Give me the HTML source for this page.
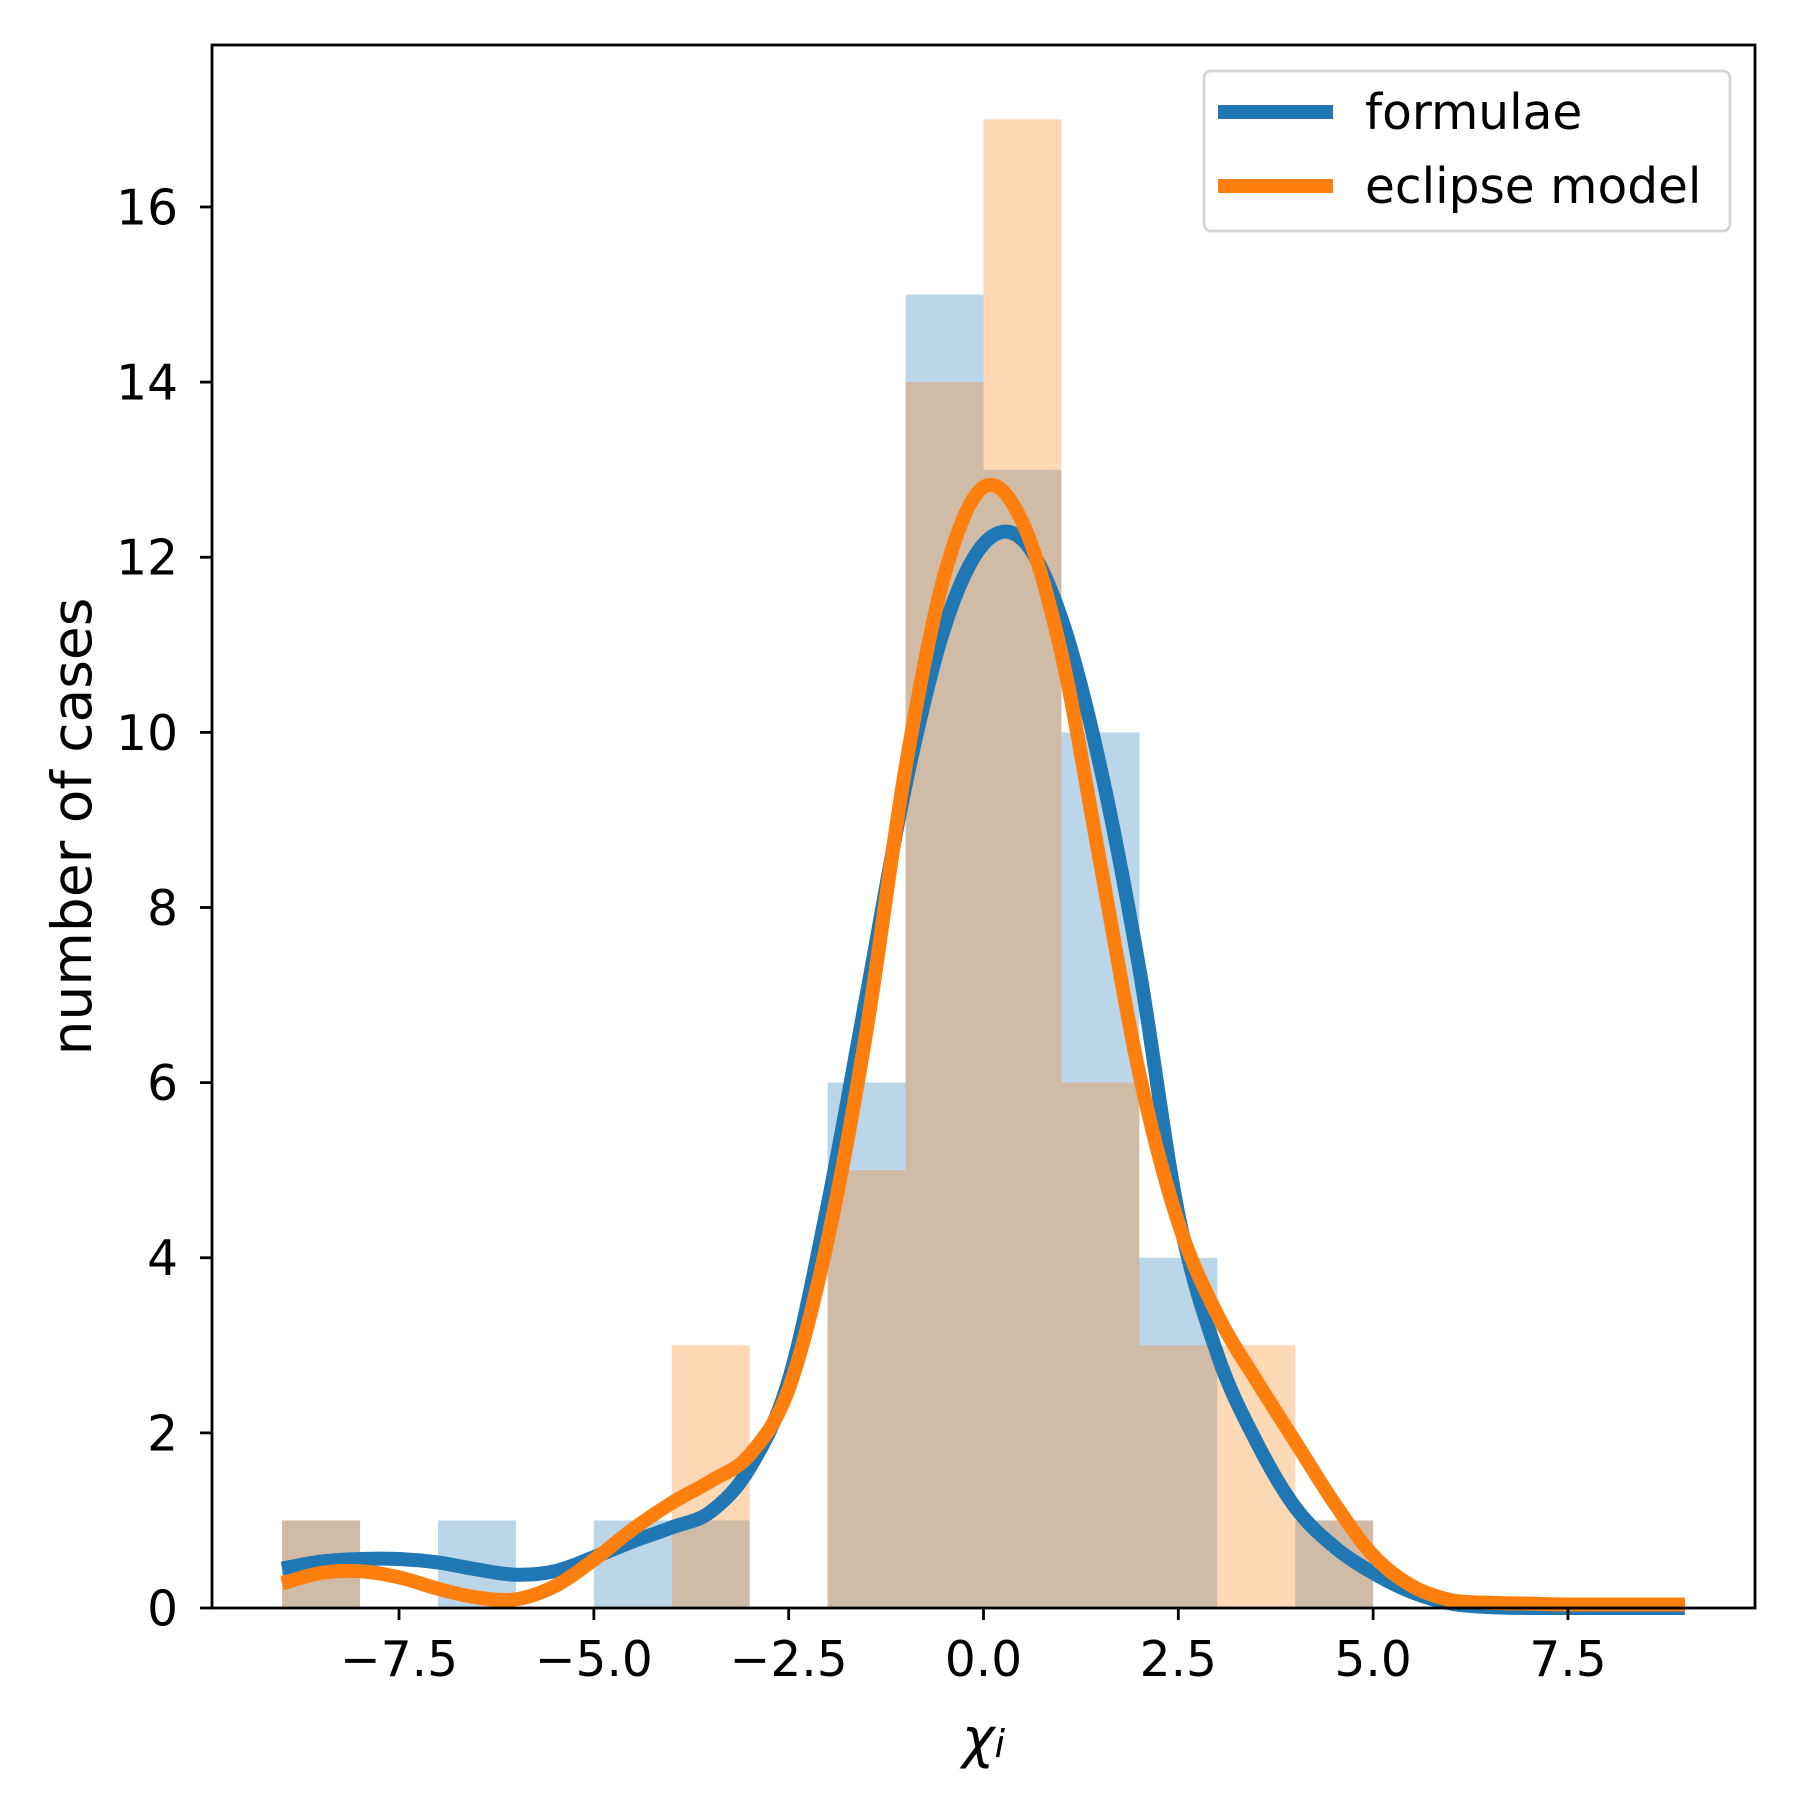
<!DOCTYPE html>
<html><head><meta charset="utf-8"><style>
html,body{margin:0;padding:0;background:#fff;}
svg{display:block;font-family:"DejaVu Sans","Liberation Sans",sans-serif;}
</style></head><body>
<svg id="chart" width="1800" height="1800" viewBox="0 0 1800 1800">
<rect width="1800" height="1800" fill="#fff"/>
<g id="bars"></g>
<g id="lines"></g>
<g id="axes"></g>
<g id="legend">
  <rect x="1204" y="71" width="526" height="160" rx="7" fill="#fff" fill-opacity="0.8" stroke="#d5d5d5" stroke-width="2.8"/>
  <line x1="1218" y1="112" x2="1333" y2="112" stroke="#1f77b4" stroke-width="14"/>
  <text x="1365" y="129" font-size="48.6" fill="#000">formulae</text>
  <line x1="1218" y1="186" x2="1333" y2="186" stroke="#ff7f0e" stroke-width="14"/>
  <text x="1365" y="203" font-size="48.6" fill="#000">eclipse model</text>
</g>
</svg>
<script>
const binEdges = [-9,-8,-7,-6,-5,-4,-3,-2,-1,0,1,2,3,4];
const countsFormulae = [1,0,1,0,1,1,0,6,15,13,10,4,0,1];
const countsEclipse  = [1,0,0,0,0,3,0,5,14,17,6,3,3,1];
const kdeX = [-9,-8.5,-8,-7.5,-7,-6.5,-6,-5.5,-5,-4.5,-4,-3.5,-3,-2.5,-2,-1.5,-1,-0.5,0,0.5,1,1.5,2,2.5,3,3.5,4,4.5,5,5.5,6,6.5,7,7.5,8,8.5,9];
const kdeFormulae = [0.45,0.53,0.56,0.56,0.52,0.44,0.38,0.42,0.58,0.76,0.92,1.1,1.6,2.6,4.6,7.0,9.4,11.2,12.15,12.2,11.3,9.6,7.3,4.5,2.9,1.9,1.15,0.7,0.4,0.18,0.05,0.01,0,0,0,0,0];
const kdeEclipse = [0.28,0.4,0.42,0.35,0.22,0.12,0.1,0.25,0.55,0.9,1.2,1.45,1.75,2.5,4.2,6.6,9.6,11.8,12.8,12.4,10.9,8.5,6.1,4.4,3.35,2.6,1.9,1.2,0.6,0.25,0.09,0.06,0.05,0.04,0.04,0.04,0.04];
const xTicks = [-7.5,-5,-2.5,0,2.5,5,7.5];
const xTickLabels = ["\u22127.5","\u22125.0","\u22122.5","0.0","2.5","5.0","7.5"];
const yTicks = [0,2,4,6,8,10,12,14,16];
const yTickLabels = ["0","2","4","6","8","10","12","14","16"];

const L=212,R=1755,T=45,B=1608;
const xMin=-9.9,xMax=9.9,yMin=0,yMax=17.85;
const sx=v=>L+(v-xMin)/(xMax-xMin)*(R-L);
const sy=v=>B-(v-yMin)/(yMax-yMin)*(B-T);
const NS="http://www.w3.org/2000/svg";
function mk(tag,attrs,parent){const e=document.createElementNS(NS,tag);for(const k in attrs)e.setAttribute(k,attrs[k]);parent.appendChild(e);return e;}

const bars=document.getElementById('bars');
function drawBars(counts,color,name){
  counts.forEach((c,i)=>{
    if(c<=0)return;
    const x0=sx(binEdges[i]),x1=sx(binEdges[i]+1);
    const r=mk('rect',{x:x0,y:sy(c),width:x1-x0,height:sy(0)-sy(c),fill:color,'fill-opacity':0.3},bars);
    
    
  });
}
drawBars(countsFormulae,'#1f77b4','formulae');
drawBars(countsEclipse,'#ff7f0e','eclipse');

function smoothPath(xs,ys){
  const p=xs.map((x,i)=>[sx(x),sy(ys[i])]);
  let d='M'+p[0][0]+','+p[0][1];
  for(let i=0;i<p.length-1;i++){
    const p0=p[Math.max(0,i-1)],p1=p[i],p2=p[i+1],p3=p[Math.min(p.length-1,i+2)];
    const c1=[p1[0]+(p2[0]-p0[0])/6,p1[1]+(p2[1]-p0[1])/6];
    const c2=[p2[0]-(p3[0]-p1[0])/6,p2[1]-(p3[1]-p1[1])/6];
    d+=' C'+c1[0]+','+c1[1]+' '+c2[0]+','+c2[1]+' '+p2[0]+','+p2[1];
  }
  return d;
}
const lines=document.getElementById('lines');
const lf=mk('path',{d:smoothPath(kdeX,kdeFormulae),fill:'none',stroke:'#1f77b4','stroke-width':14,'stroke-linejoin':'round'},lines);


const le=mk('path',{d:smoothPath(kdeX,kdeEclipse),fill:'none',stroke:'#ff7f0e','stroke-width':14,'stroke-linejoin':'round'},lines);



const axes=document.getElementById('axes');
const frame=mk('rect',{x:L,y:T,width:R-L,height:B-T,fill:'none',stroke:'#000','stroke-width':2.8},axes);


xTicks.forEach((v,i)=>{
  const t=mk('line',{x1:sx(v),x2:sx(v),y1:B,y2:B+12,stroke:'#000','stroke-width':2.8},axes);
  
  
  const tx=mk('text',{x:sx(v),y:B+68,'font-size':48.6,'text-anchor':'middle',fill:'#000'},axes);
  tx.textContent=xTickLabels[i];
  
  
});
yTicks.forEach((v,i)=>{
  const t=mk('line',{x1:L-12,x2:L,y1:sy(v),y2:sy(v),stroke:'#000','stroke-width':2.8},axes);
  
  
  const tx=mk('text',{x:L-34,y:sy(v)+17.5,'font-size':48.6,'text-anchor':'end',fill:'#000'},axes);
  tx.textContent=yTickLabels[i];
  
  
});
const xl=mk('text',{x:(L+R)/2,y:1757,'font-size':55,'text-anchor':'middle',fill:'#000','font-style':'italic'},axes);
xl.innerHTML='χ<tspan font-size="38" dy="0">i</tspan>';


const yl=mk('text',{x:0,y:0,'font-size':55,'text-anchor':'middle',fill:'#000',transform:'translate(91,'+((T+B)/2)+') rotate(-90)'},axes);
yl.textContent='number of cases';


</script>
</body></html>
